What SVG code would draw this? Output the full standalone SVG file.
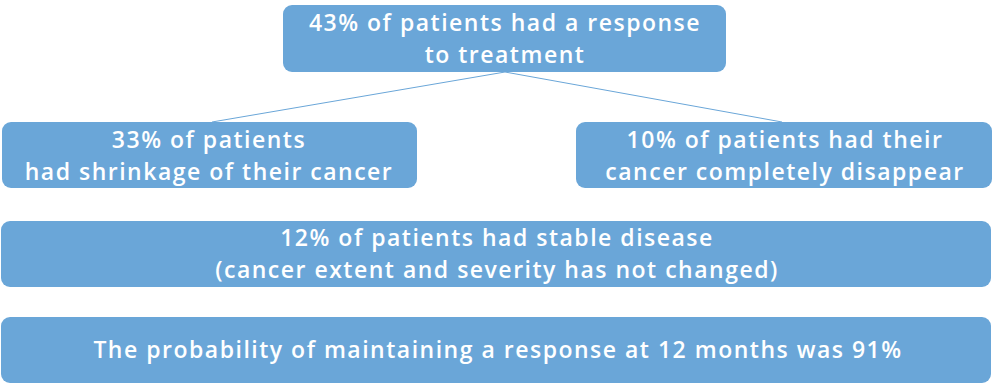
<svg xmlns="http://www.w3.org/2000/svg" width="993" height="385" viewBox="0 0 993 385">
<style>
.box{fill:#6aa6d8;}
.t{fill:#ffffff;font-family:"Open Sans","Lato",sans-serif;font-size:23px;font-weight:600;letter-spacing:1.5px;text-anchor:middle;}
.c{stroke:#6aa6d8;stroke-width:1;fill:none;}
</style>
<rect width="993" height="385" fill="#ffffff"/>
<g id="connectors">
<line class="c" x1="505" y1="72" x2="212" y2="122"/>
<line class="c" x1="505" y1="72" x2="782" y2="122"/>
</g>
<g id="n-response">
<rect class="box" x="283" y="5" width="443" height="67" rx="9"/>
<text class="t" x="505" y="31">43% of patients had a response</text>
<text class="t" x="505" y="63">to treatment</text>
</g>
<g id="n-shrinkage">
<rect class="box" x="2" y="122" width="415" height="66" rx="9"/>
<text class="t" x="209" y="148">33% of patients</text>
<text class="t" x="209" y="180">had shrinkage of their cancer</text>
</g>
<g id="n-disappear">
<rect class="box" x="576" y="122" width="416" height="66" rx="9"/>
<text class="t" x="785" y="148">10% of patients had their</text>
<text class="t" x="785" y="180">cancer completely disappear</text>
</g>
<g id="n-stable">
<rect class="box" x="1" y="221" width="990" height="66" rx="9"/>
<text class="t" x="497" y="246">12% of patients had stable disease</text>
<text class="t" x="497" y="278">(cancer extent and severity has not changed)</text>
</g>
<g id="n-maintain">
<rect class="box" x="1" y="317" width="990" height="66" rx="9"/>
<text class="t" x="498" y="358">The probability of maintaining a response at 12 months was 91%</text>
</g>
</svg>
